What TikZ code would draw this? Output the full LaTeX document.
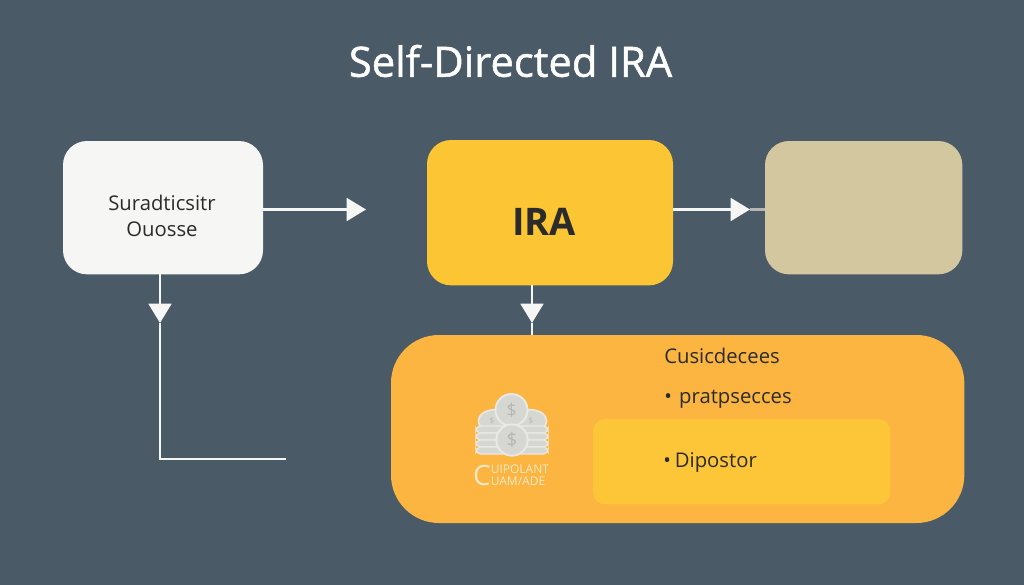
\documentclass[tikz,border=0pt]{standalone}
\usepackage{fontspec}
\setmainfont{Open Sans}
\newfontfamily\titlefont[FakeBold=1.2]{Open Sans}
\usetikzlibrary{arrows.meta,calc,shapes.geometric}
\definecolor{bg}{HTML}{4A5A67}
\definecolor{ink}{HTML}{2B2B2B}
\definecolor{whitebox}{HTML}{F6F6F4}
\definecolor{yellowbox}{HTML}{FCC533}
\definecolor{tanbox}{HTML}{D2C79F}
\definecolor{orangebox}{HTML}{FBB540}
\definecolor{innerbox}{HTML}{FDC538}
\definecolor{coinfill}{HTML}{D6D6D3}
\definecolor{coinedge}{HTML}{E9E9E6}
\definecolor{coinmark}{HTML}{B5B5B2}
\definecolor{captext}{HTML}{F4E9C6}
\tikzset{
  x=0.75pt,y=-0.75pt,
  boxstyle/.style={rounded corners=#1,inner sep=0pt,outer sep=0pt,anchor=north west},
  conn/.style={draw=whitebox,line width=2.2pt},
  headed/.style={conn,-{Triangle[length=14.5pt,width=17pt,fill=whitebox]}},
  label/.style={text=ink,font=\fontsize{15.2pt}{20pt}\selectfont,align=center,inner sep=0pt},
  coin/.style={circle,draw=coinedge,line width=1.4pt,fill=coinfill,inner sep=0pt},
  sidecoin/.style={ellipse,draw=coinedge,line width=1.2pt,fill=coinfill,inner sep=0pt,minimum width=25pt,minimum height=17pt},
  plate/.style={rounded corners=3.5pt,fill=coinfill,draw=coinedge,line width=0.9pt},
  dollar/.style={text=coinmark,font=\fontsize{#1}{#1}\selectfont,inner sep=0pt},
  captxt/.style={text=captext,inner sep=0pt}
}
\begin{document}
\begin{tikzpicture}
\useasboundingbox (0,0) rectangle (1024,585);
\fill[bg] (0,0) rectangle (1024,585);

\node[text=white,font=\fontsize{31.3pt}{36pt}\titlefont,inner sep=0pt] (title) at (510.5,61) {Self-Directed IRA};

% boxes
\node[boxstyle=18pt,fill=whitebox,minimum width=150pt,minimum height=100pt] (src) at (63,141) {};
\node[boxstyle=18pt,fill=yellowbox,minimum width=184.5pt,minimum height=109pt] (ira) at (427,140) {};
\node[boxstyle=18pt,fill=tanbox,minimum width=148pt,minimum height=100pt] (tan) at (765,141) {};
\node[boxstyle=36pt,fill=orangebox,minimum width=430pt,minimum height=141pt] (main) at (391,335) {};
\node[boxstyle=9pt,fill=innerbox,minimum width=223pt,minimum height=64pt] (inner) at (593,419) {};

% labels
\node[label] (srctext) at (162,216) {Suradticsitr\\Ouosse};
\node[text=ink,font=\fontsize{28.5pt}{32pt}\selectfont\bfseries,inner sep=0pt] (iratext) at (544,222) {IRA};
\node[label,anchor=base west] (cus) at (664,363) {Cusicdecees};
\node[label,anchor=base west] (prat) at (664,403) {•\hspace{5.5pt}pratpsecces};
\node[label,anchor=base west] (dip) at (663,467) {•\hspace{3pt}Dipostor};

% connectors
\coordinate (a1) at (366,209.5);
\draw[headed] (src.east|-a1) -- (a1);

\coordinate (a2) at (750,209.5);
\coordinate (a2b) at (765,209.5);
\draw[headed] (ira.east|-a2) -- (a2);
\draw[draw=coinmark,line width=2.2pt] (a2) -- (a2b);

\coordinate (a3m) at (532,323);
\draw[headed] (ira.south-|a3m) -- (a3m);
\draw[conn] (a3m) -- (main.north-|a3m);

\coordinate (a4m) at (160,323);
\coordinate (a4c) at (160,459);
\coordinate (a4e) at (286,459);
\draw[headed] (src.south-|a4m) -- (a4m);
\draw[conn,line cap=butt,line join=miter] (a4m) -- (a4c) -- (a4e);

% coin stack
\node[sidecoin] (c1) at (495,421) {};
\node[sidecoin] (c2) at (530,421) {};
\node[dollar=6pt] at (492,421) {\$};
\node[dollar=6pt] at (531,421) {\$};
\foreach \yy in {426,433,440,447}{
  \draw[plate] (476,\yy) rectangle (548,\yy+7);
}
\node[coin,minimum size=24pt] (c3) at (511.5,410) {};
\node[dollar=13pt] at (c3) {\$};
\node[coin,minimum size=23.5pt] (c4) at (512,440) {};
\node[dollar=14pt] at (c4) {\$};

\node[captxt,font=\fontsize{21pt}{21pt}\selectfont,anchor=base east] (capc) at (491,485.5) {C};
\node[captxt,font=\fontsize{9pt}{8.6pt}\selectfont,align=left,anchor=west] (capa) at (490.5,475) {UIPOLANT\\UAM/ADE};
\end{tikzpicture}
\end{document}
